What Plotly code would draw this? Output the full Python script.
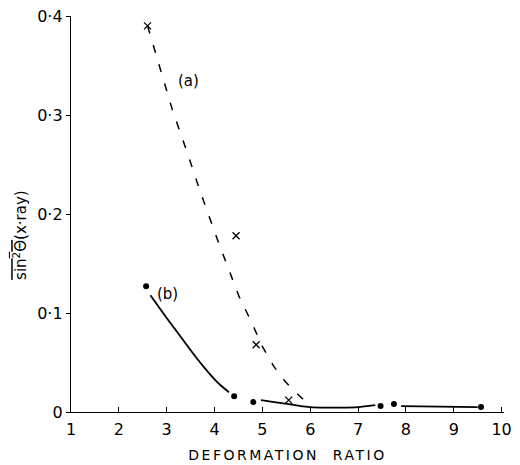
import plotly.graph_objects as go

# (a) crosses and fitted dashed curve
a_x = [2.6, 4.45, 4.87, 5.55]
a_y = [0.39, 0.178, 0.068, 0.012]
a_curve_x = [2.6, 3.12, 3.43, 3.72, 4.10, 4.51, 4.79, 4.99, 5.24, 5.49, 5.74, 6.0]
a_curve_y = [0.39, 0.305, 0.262, 0.220, 0.169, 0.117, 0.089, 0.067, 0.046, 0.030, 0.018, 0.006]

# (b) dots and solid curve segments
b_x = [2.57, 4.41, 4.81, 7.47, 7.75, 9.57]
b_y = [0.127, 0.016, 0.010, 0.006, 0.008, 0.005]
b_seg1_x = [2.66, 2.85, 3.0, 3.2, 3.4, 3.6, 3.8, 4.0, 4.15, 4.3]
b_seg1_y = [0.118, 0.105, 0.095, 0.082, 0.069, 0.056, 0.044, 0.033, 0.026, 0.020]
b_seg2_x = [4.97, 5.25, 5.55, 5.8, 6.0, 6.3, 6.6, 7.0, 7.36]
b_seg2_y = [0.012, 0.010, 0.008, 0.006, 0.005, 0.0045, 0.0045, 0.005, 0.007]
b_seg3_x = [7.9, 8.7, 9.5]
b_seg3_y = [0.006, 0.0055, 0.005]

x_ticks = [1, 2, 3, 4, 5, 6, 7, 8, 9, 10]
x_ticklabels = ["1", "2", "3", "4", "5", "6", "7", "8", "9", "10"]
y_ticks = [0, 0.1, 0.2, 0.3, 0.4]
y_ticklabels = ["0", "0·1", "0·2", "0·3", "0·4"]

fig = go.Figure()
fig.add_trace(go.Scatter(x=a_curve_x, y=a_curve_y, mode="lines",
                         line=dict(color="black", width=1.5, dash="8px,12px"),
                         showlegend=False, hoverinfo="skip"))
fig.add_trace(go.Scatter(x=a_x, y=a_y, mode="markers",
                         marker=dict(symbol="x-thin", size=7, line=dict(color="black", width=1.3)),
                         showlegend=False))
for sx, sy in [(b_seg1_x, b_seg1_y), (b_seg2_x, b_seg2_y), (b_seg3_x, b_seg3_y)]:
    fig.add_trace(go.Scatter(x=sx, y=sy, mode="lines",
                             line=dict(color="black", width=1.8, shape="spline", smoothing=0.6),
                             showlegend=False, hoverinfo="skip"))
fig.add_trace(go.Scatter(x=b_x, y=b_y, mode="markers",
                         marker=dict(symbol="circle", size=6, color="black"),
                         showlegend=False))

fig.add_annotation(x=3.45, y=0.334, text="(a)", showarrow=False,
                   font=dict(size=15, color="black"))
fig.add_annotation(x=3.02, y=0.119, text="(b)", showarrow=False,
                   font=dict(size=15, color="black"))
fig.add_annotation(xref="paper", yref="paper", x=-0.118, y=0.447,
                   xanchor="center", yanchor="middle",
                   text='<span style="text-decoration:overline">sin<sup>2</sup>Θ</span>(x·ray)',
                   textangle=-90, showarrow=False, font=dict(size=15, color="black"))

fig.update_layout(
    width=520, height=465,
    margin=dict(l=71, r=16, t=16, b=53),
    plot_bgcolor="white", paper_bgcolor="white",
    font=dict(family="DejaVu Sans, Liberation Sans, sans-serif", color="black", size=16),
    xaxis=dict(range=[1, 10.05], tickvals=x_ticks, ticktext=x_ticklabels, automargin=False,
               showgrid=False, zeroline=False, showline=True, linecolor="black", linewidth=1.3,
               ticks="inside", ticklen=5, tickcolor="black", ticklabelstandoff=3,
               title=dict(text='<span style="letter-spacing:2.5px">DEFORMATION  RATIO</span>',
                          font=dict(size=14), standoff=11)),
    yaxis=dict(range=[0, 0.4], tickvals=y_ticks, ticktext=y_ticklabels, automargin=False,
               showgrid=False, zeroline=False, showline=True, linecolor="black", linewidth=1.3,
               ticks="outside", ticklen=4, tickcolor="black"),
)

fig.write_html("out.html", config={"displayModeBar": False},
               post_script="document.body.style.margin='0';")
